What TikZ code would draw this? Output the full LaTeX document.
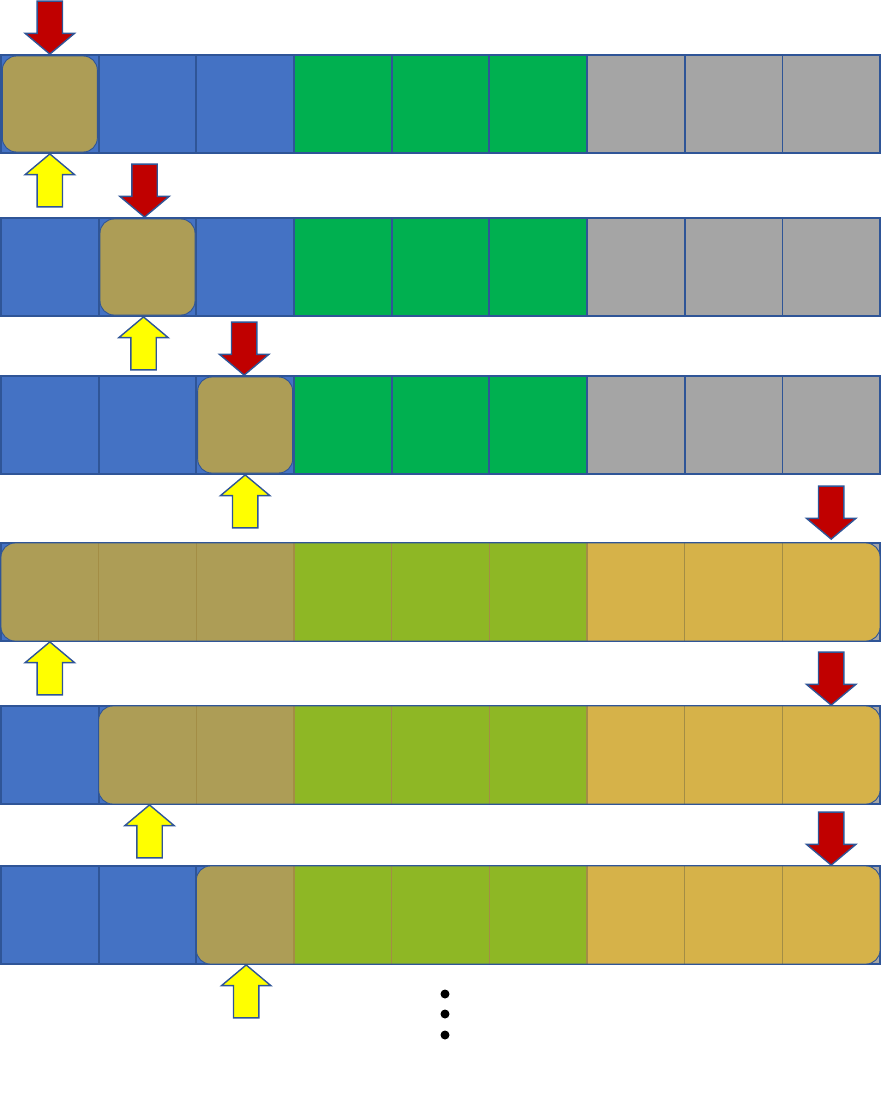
\documentclass[tikz,border=0pt]{standalone}
\usepackage{tikz}
\usetikzlibrary{shapes.arrows,positioning,calc}
\definecolor{cblue}{HTML}{4472C4}
\definecolor{cgreen}{HTML}{00B050}
\definecolor{cgray}{HTML}{A5A5A5}
\definecolor{cedge}{HTML}{2F5597}
\definecolor{colive}{HTML}{AD9D56}
\definecolor{clime}{HTML}{8EB725}
\definecolor{cgold}{HTML}{D6B249}
\definecolor{csep}{HTML}{A38D45}
\definecolor{cred}{HTML}{C00000}
\definecolor{cyel}{HTML}{FFFF00}

\begin{document}
\begin{tikzpicture}[x=1pt, y=-1pt,
  cell/.style={draw=cedge, line width=1.7pt, minimum width=97.7pt, minimum height=98pt, inner sep=0pt, outer sep=0pt},
  pick/.style={cell, rounded corners=14pt, fill=colive, line width=0.9pt, minimum width=95pt, minimum height=96pt},
  sep/.style={draw=csep, line width=1.1pt},
  band/.style={draw=cedge, line width=0.9pt, rounded corners=14pt},
  downarr/.style={single arrow, draw=cedge, fill=cred, line width=1.4pt, inner xsep=0pt, inner ysep=12pt,
    single arrow head extend=12pt, single arrow tip angle=100, minimum width=48pt, minimum height=53pt,
    rotate=-90, anchor=tip},
  uparr/.style={downarr, fill=cyel, rotate=180},
  dot/.style={circle, fill=black, minimum size=9pt, inner sep=0pt}]
\useasboundingbox (0,0) rectangle (881,1096);
% rows of cells
\foreach \r/\y in {1/104,2/267,3/425,4/592,5/755,6/915}
  \foreach \c/\col in {1/cblue,2/cblue,3/cblue,4/cgreen,5/cgreen,6/cgreen,7/cgray,8/cgray,9/cgray}
    \node[cell, fill=\col] (c\r-\c) at ({1+(\c-0.5)*97.67},\y) {};
% single picks
\node[pick] (p1) at (c1-1) {};
\node[pick] (p2) at (c2-2) {};
\node[pick] (p3) at (c3-3) {};
% merged bands
\foreach \r/\k in {4/1,5/2,6/3} {
  \begin{scope}
    \clip[rounded corners=14pt] (c\r-\k.north west) rectangle (c\r-9.south east);
    \foreach \c/\col in {1/colive,2/colive,3/colive,4/clime,5/clime,6/clime,7/cgold,8/cgold,9/cgold} {
      \ifnum\c<\k\relax\else \fill[\col] (c\r-\c.north west) rectangle (c\r-\c.south east);\fi
    }
  \end{scope}
  \foreach \c in {2,...,9} {
    \ifnum\c>\k\relax \draw[sep] (c\r-\c.north west) -- (c\r-\c.south west);\fi
  }
  \draw[band] (c\r-\k.north west) rectangle (c\r-9.south east);
}
% arrows
\node[downarr] (d1) at (c1-1.north) {};
\node[downarr] (d2) at ($(c2-2.north)+(-3,0)$) {};
\node[downarr] (d3) at ($(c3-3.north)+(-1,0)$) {};
\node[downarr] (d4) at ($(c4-9.north)+(0,-3)$) {};
\node[downarr] (d5) at (c5-9.north) {};
\node[downarr] (d6) at (c6-9.north) {};
\node[uparr] (u1) at (c1-1.south) {};
\node[uparr] (u2) at ($(c2-2.south)+(-4,0)$) {};
\node[uparr] (u3) at (c3-3.south) {};
\node[uparr] (u4) at (c4-1.south) {};
\node[uparr] (u5) at ($(c5-2.south)+(2,0)$) {};
\node[uparr] (u6) at ($(c6-3.south)+(1,0)$) {};
% more to come
\node[dot] (v1) at (445,994) {};
\node[dot] (v2) at (445,1014) {};
\node[dot] (v3) at (445,1035) {};
\end{tikzpicture}
\end{document}
